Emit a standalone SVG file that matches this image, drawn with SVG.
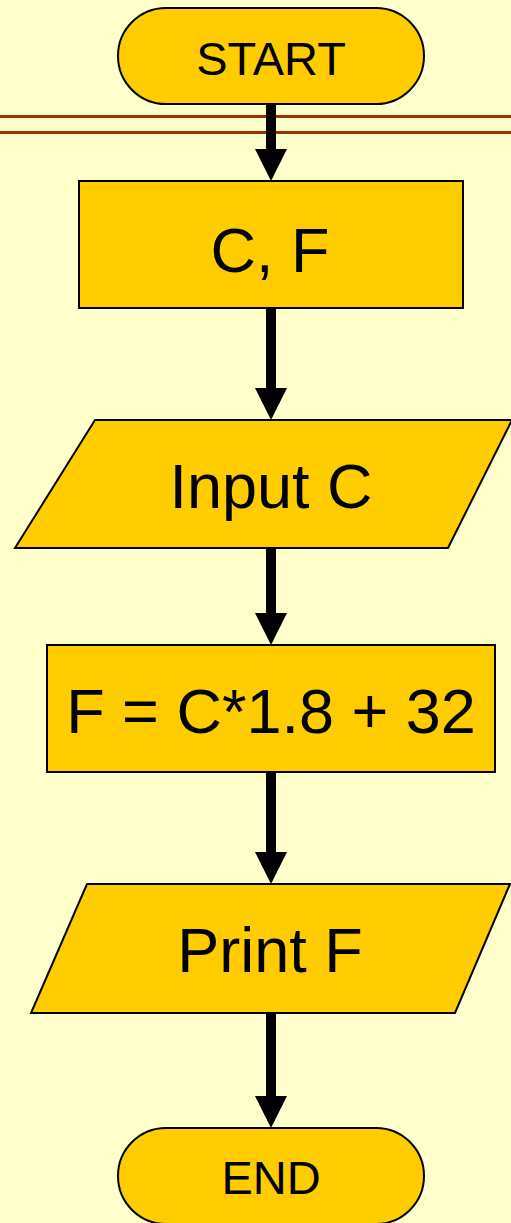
<svg xmlns="http://www.w3.org/2000/svg" width="511" height="1223" viewBox="0 0 511 1223">
<style>
.shape{fill:#FFCC00;stroke:#000;stroke-width:2}
.lbl{font-family:"Liberation Sans",Arial,sans-serif;fill:#000;text-anchor:middle}
.big{font-size:63px}
.term{font-size:47px}
.shaft{stroke:#000;stroke-width:10;fill:none}
.rule{stroke:#993300;stroke-width:3}
</style>
<defs>
<marker id="ah" markerUnits="userSpaceOnUse" markerWidth="32" markerHeight="32" viewBox="0 0 32 32" refX="0" refY="16" orient="auto">
<path d="M0,0 L32,16 L0,32 Z" fill="#000"/>
</marker>
</defs>
<rect x="0" y="0" width="511" height="1223" fill="#FFFFCC"/>
<g id="rules">
<line class="rule" x1="0" y1="116.5" x2="511" y2="116.5"/>
<line class="rule" x1="0" y1="132.5" x2="511" y2="132.5"/>
</g>
<g id="start">
<rect class="shape" x="118" y="8" width="306" height="96" rx="48" ry="48"/>
<text class="lbl term" x="271" y="75">START</text>
</g>
<g id="declare">
<rect class="shape" x="79" y="181" width="384" height="127"/>
<text class="lbl big" x="270" y="272">C, F</text>
</g>
<g id="input">
<polygon class="shape" points="95,420 512,420 448,548 15,548"/>
<text class="lbl big" x="271" y="508">Input C</text>
</g>
<g id="compute">
<rect class="shape" x="47" y="645" width="448" height="127"/>
<text class="lbl big" x="271" y="733">F = C*1.8 + 32</text>
</g>
<g id="print">
<polygon class="shape" points="87,884 510,884 455,1013 31,1013"/>
<text class="lbl big" x="270" y="972">Print F</text>
</g>
<g id="end">
<rect class="shape" x="118" y="1128" width="306" height="96" rx="48" ry="48"/>
<text class="lbl term" x="271" y="1194">END</text>
</g>
<g id="connectors">
<line class="shaft" x1="271" y1="104" x2="271" y2="149" marker-end="url(#ah)"/>
<line class="shaft" x1="271" y1="308" x2="271" y2="388" marker-end="url(#ah)"/>
<line class="shaft" x1="271" y1="548" x2="271" y2="613" marker-end="url(#ah)"/>
<line class="shaft" x1="271" y1="772" x2="271" y2="852" marker-end="url(#ah)"/>
<line class="shaft" x1="271" y1="1013" x2="271" y2="1096" marker-end="url(#ah)"/>
</g>
</svg>
